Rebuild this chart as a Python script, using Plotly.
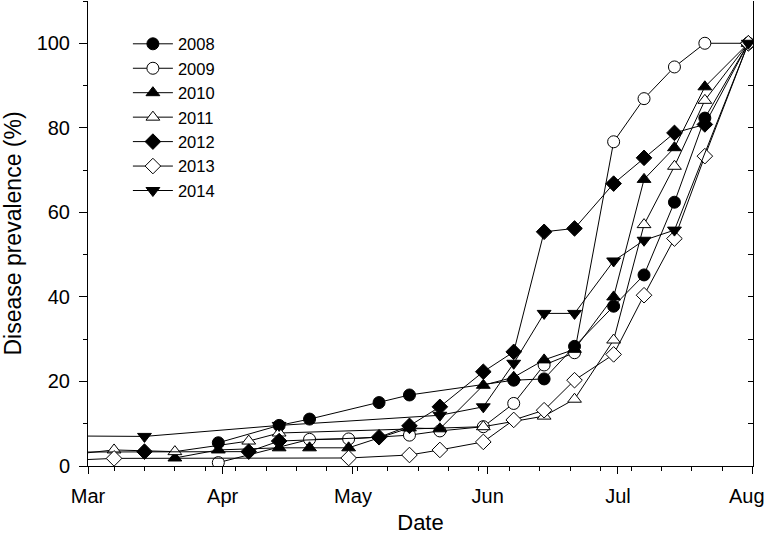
import plotly.graph_objects as go

# ---- data (dates on a common season axis; year 2001 used only as a dummy) ----
d2008 = ["03-31", "04-14", "04-21", "05-07", "05-14", "06-07", "06-14", "06-21", "06-30", "07-07", "07-14", "07-21", "07-31"]
v2008 = [5.5, 9.6, 11.1, 15.0, 16.8, 20.3, 20.6, 28.3, 37.8, 45.2, 62.4, 82.3, 100]

d2009 = ["03-31", "04-21", "04-30", "05-14", "05-21", "05-31", "06-07", "06-14", "06-21", "06-30", "07-07", "07-14", "07-21", "07-31"]
v2009 = [0.8, 6.3, 6.4, 7.3, 8.3, 9.3, 14.8, 23.9, 26.8, 76.7, 86.9, 94.4, 100, 100]

d2010 = ["03-21", "03-31", "04-14", "04-21", "04-30", "05-14", "05-21", "05-31", "06-07", "06-14", "06-21", "06-30", "07-07", "07-14", "07-21", "07-31"]
v2010 = [1.9, 3.8, 4.3, 4.3, 4.3, 9.0, 8.8, 19.1, 21.0, 25.1, 27.6, 40.0, 67.8, 75.3, 89.7, 100]

d2011 = ["02-26", "03-07", "03-21", "04-07", "04-14", "05-31", "06-14", "06-21", "06-30", "07-07", "07-14", "07-21", "07-31"]
v2011 = [2.8, 3.8, 3.4, 5.9, 7.8, 9.3, 11.8, 15.8, 29.8, 57.1, 70.9, 86.5, 100]

d2012 = ["02-26", "03-14", "04-07", "04-14", "05-07", "05-14", "05-21", "05-31", "06-07", "06-14", "06-21", "06-30", "07-07", "07-14", "07-21", "07-31"]
v2012 = [3.3, 3.4, 3.4, 5.9, 6.8, 9.5, 14.0, 22.3, 27.0, 55.4, 56.2, 66.8, 72.9, 78.8, 80.8, 100]

d2013 = ["02-26", "03-07", "04-30", "05-14", "05-21", "05-31", "06-07", "06-14", "06-21", "06-30", "07-07", "07-14", "07-21", "07-31"]
v2013 = [1.4, 1.8, 1.9, 2.6, 3.8, 5.7, 10.9, 13.2, 20.3, 26.4, 40.4, 53.8, 73.3, 100]

d2014 = ["02-26", "03-14", "04-14", "05-21", "05-31", "06-07", "06-14", "06-21", "06-30", "07-07", "07-14", "07-31"]
v2014 = [7.1, 7.0, 9.6, 12.0, 14.0, 24.3, 36.1, 36.1, 48.5, 53.4, 55.8, 100]

years = ["2008", "2009", "2010", "2011", "2012", "2013", "2014"]
dates = [d2008, d2009, d2010, d2011, d2012, d2013, d2014]
values = [v2008, v2009, v2010, v2011, v2012, v2013, v2014]
symbols = ["circle", "circle", "triangle-up", "triangle-up", "diamond", "diamond", "triangle-down"]
fills = ["black", "white", "black", "white", "black", "white", "black"]

month_ticks = ["2001-03-01", "2001-04-01", "2001-05-01", "2001-06-01", "2001-07-01", "2001-08-01"]
month_labels = ["Mar", "Apr", "May", "Jun", "Jul", "Aug"]

FONT = "Arial, Liberation Sans, sans-serif"

fig = go.Figure()
for yr, d, v, s, f in zip(years, dates, values, symbols, fills):
    fig.add_trace(go.Scatter(
        x=["2001-" + t for t in d], y=v, name=yr, mode="lines+markers",
        line=dict(color="black", width=1),
        marker=dict(symbol=s, size=12, color=f, line=dict(color="black", width=1)),
    ))

# dummy trace for the mirrored right axis
fig.add_trace(go.Scatter(x=[None], y=[None], yaxis="y2", showlegend=False, hoverinfo="skip"))

# last month label drawn as an annotation nudged left so it stays inside the page
fig.add_annotation(x=month_ticks[-1], y=0, xref="x", yref="paper", text=month_labels[-1],
                   showarrow=False, xanchor="center", yanchor="top", xshift=-6, yshift=-17,
                   font=dict(size=20, family=FONT, color="black"))

fig.update_layout(
    width=765, height=544,
    margin=dict(l=88, r=12, t=1, b=78),
    paper_bgcolor="white", plot_bgcolor="white",
    font=dict(family=FONT, size=18, color="black"),
    showlegend=True,
    legend=dict(x=0.06, y=0.945, xanchor="left", yanchor="top",
                bgcolor="rgba(0,0,0,0)", font=dict(size=16.5), itemwidth=40,
                tracegroupgap=0),
    xaxis=dict(
        type="date", range=["2001-03-01", "2001-08-01 02:00"],
        tickvals=month_ticks, ticktext=month_labels[:-1] + [""],
        showgrid=False, zeroline=False, showline=True, linecolor="black", linewidth=1,
        ticks="outside", ticklen=7, tickwidth=1, tickcolor="black",
        tickfont=dict(size=20), ticklabelstandoff=5,
        minor=dict(dtick=7 * 86400000, tick0="2001-03-07", ticks="outside", ticklen=4,
                   tickwidth=1, tickcolor="black", showgrid=False),
        title=dict(text="Date", font=dict(size=22), standoff=8),
        automargin=False,
    ),
    yaxis=dict(
        range=[0, 110], dtick=20, tick0=0,
        showgrid=False, zeroline=False, showline=True, linecolor="black", linewidth=1,
        ticks="outside", ticklen=8, tickwidth=1, tickcolor="black",
        tickfont=dict(size=20), ticklabelstandoff=5,
        minor=dict(dtick=10, ticks="outside", ticklen=4, tickwidth=1, tickcolor="black", showgrid=False),
        title=dict(text="Disease prevalence (%)", font=dict(size=23)),
        automargin=False,
    ),
    yaxis2=dict(
        overlaying="y", side="right", anchor="x", range=[0, 110], dtick=10,
        showgrid=False, zeroline=False, showline=True, linecolor="black", linewidth=1,
        ticks="inside", ticklen=5, tickwidth=1, tickcolor="black",
        showticklabels=False, automargin=False,
    ),
)

fig.write_html("out.html", config={"displayModeBar": False},
               post_script="document.body.style.margin='0';")
